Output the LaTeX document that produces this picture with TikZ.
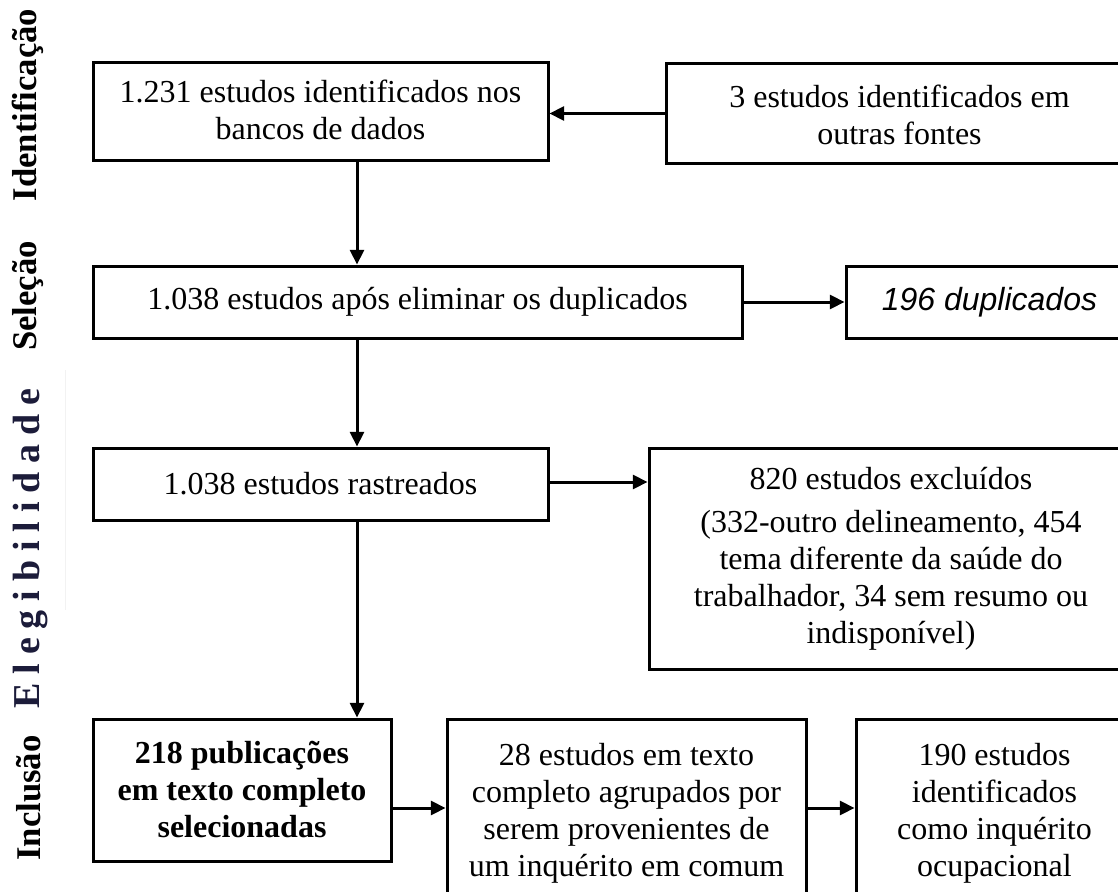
\documentclass[tikz,border=0pt]{standalone}
\usepackage{fontspec}
\setmainfont{Liberation Serif}
\newfontfamily\arialfont{Liberation Sans}
\usetikzlibrary{arrows.meta}
\definecolor{navy}{RGB}{28,28,58}
\begin{document}
\begin{tikzpicture}[x=0.75pt,y=-0.75pt,
  box/.style={draw=black, line width=2.25pt, rectangle, inner sep=0pt, align=center,
    font=\fontsize{24}{27.75}\selectfont},
  arr/.style={line width=2.25pt, -{Triangle[length=11pt,width=10.5pt]}},
  phase/.style={rotate=90, inner sep=0pt, font=\fontsize{26}{30}\selectfont\bfseries}]
\useasboundingbox (0,0) rectangle (1118,892);

% phase labels
\node[phase] (pI) at (28,105) {Identificação};
\node[phase] (pS) at (28,296) {Seleção};
\node[phase, text=navy, font=\fontsize{28.5}{32}\selectfont\bfseries\addfontfeature{LetterSpace=23.5}] (pE) at (31,548.5) {Elegibilidade};
\node[phase] (pC) at (29,798) {Inclusão};
\draw[gray!10, line width=0.75pt] (65,370) -- (65,610);

% boxes
\node[box, minimum width=341.25pt, minimum height=72.75pt] (A) at (320.5,111.5)
  {\raisebox{-1.5pt}[\height][\depth]{\begin{tabular}{@{}c@{}}1.231 estudos identificados nos\\bancos de dados\end{tabular}}};
\node[box, minimum width=350.25pt, minimum height=74.25pt] (B) at (899.5,113.5)
  {\raisebox{-3.75pt}[\height][\depth]{\begin{tabular}{@{}c@{}}3 estudos identificados em\\outras fontes\end{tabular}}};
\node[box, minimum width=486.75pt, minimum height=54pt] (C) at (417.5,302)
  {1.038 estudos após eliminar os duplicados};
\node[box, minimum width=215.25pt, minimum height=54pt, font=\fontsize{24}{27.75}\selectfont\arialfont\itshape] (D) at (989.5,302)
  {196 duplicados};
\node[box, minimum width=341.25pt, minimum height=54pt] (E) at (320.5,484)
  {1.038 estudos rastreados};
\node[box, minimum width=363pt, minimum height=165.75pt] (F) at (891,558.5)
  {820 estudos excluídos\\[4.5pt](332-outro delineamento, 454\\tema diferente da saúde do\\trabalhador, 34 sem resumo ou\\indisponível)};
\node[box, minimum width=223.5pt, minimum height=106.5pt, font=\fontsize{24}{27.75}\selectfont\bfseries] (G) at (242,790)
  {218 publicações\\em texto completo\\selecionadas};
\node[box, minimum width=269.25pt, minimum height=141pt] (H) at (626.5,813)
  {28 estudos em texto\\completo agrupados por\\serem provenientes de\\um inquérito em comum};
\node[box, minimum width=207.75pt, minimum height=141pt] (I) at (994.5,813)
  {190 estudos\\identificados\\como inquérito\\ocupacional};

% helper coordinates
\coordinate (vx) at (357,0);
\coordinate (hy) at (0,808);
\coordinate (ey) at (0,482);

% connectors
\draw[arr] (B.west) -- (A.east |- B.west);
\draw[arr] (A.south -| vx) -- (C.north -| vx);
\draw[arr] (C.east) -- (D.west);
\draw[arr] (C.south -| vx) -- (E.north -| vx);
\draw[arr] (E.east |- ey) -- (F.west |- ey);
\draw[arr] (E.south -| vx) -- (G.north -| vx);
\draw[arr] (G.east |- hy) -- (H.west |- hy);
\draw[arr] (H.east |- hy) -- (I.west |- hy);
\end{tikzpicture}
\end{document}
